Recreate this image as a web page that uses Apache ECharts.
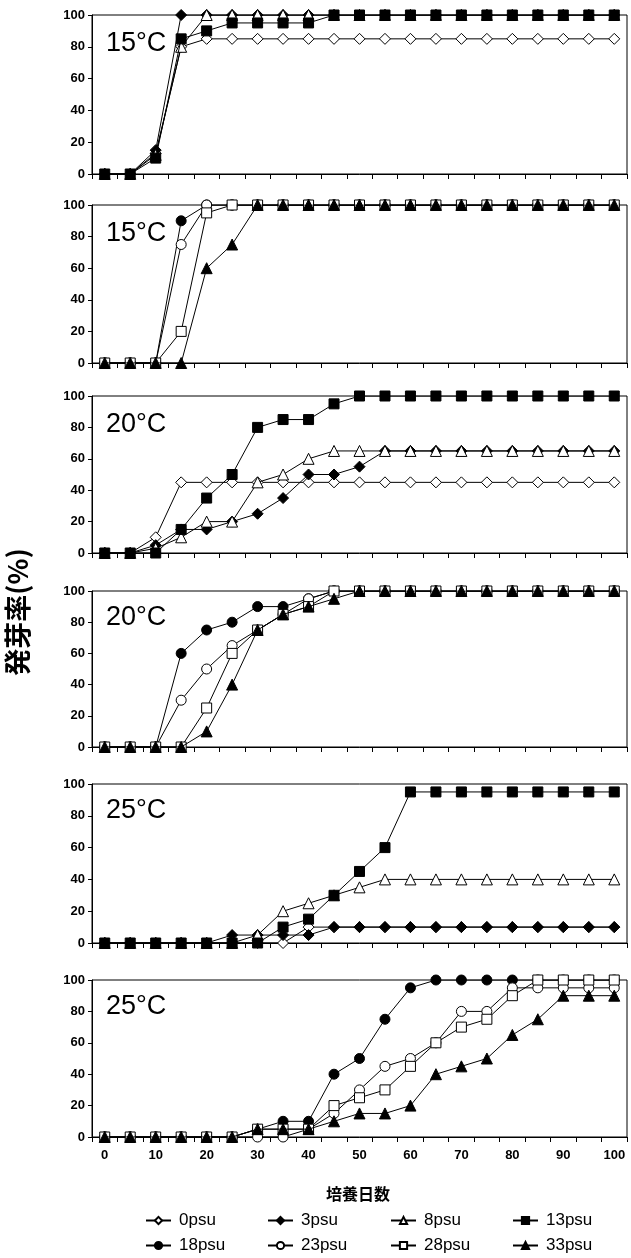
<!DOCTYPE html>
<html>
<head>
<meta charset="utf-8">
<script src="https://cdn.jsdelivr.net/npm/echarts@6/dist/echarts.min.js"></script>
<style>html,body{margin:0;padding:0;background:#fff;}#c{width:631px;height:1258px;}</style>
</head>
<body>
<div id="c"></div>
<script>
// ---- data ----
const days = ['0','5','10','15','20','25','30','35','40','45','50','55','60','65','70','75','80','85','90','95','100'];
const yTicks = [0, 20, 40, 60, 80, 100];
const panelLabels = ['15°C','15°C','20°C','20°C','25°C','25°C'];
const lowNames = ['0psu','3psu','8psu','13psu'];
const highNames = ['18psu','23psu','28psu','33psu'];

// 15°C, low salinity
const s15_0  = [0,0,13,80,85,85,85,85,85,85,85,85,85,85,85,85,85,85,85,85,85];
const s15_3  = [0,0,15,100,100,100,100,100,100,100,100,100,100,100,100,100,100,100,100,100,100];
const s15_8  = [0,0,12,80,100,100,100,100,100,100,100,100,100,100,100,100,100,100,100,100,100];
const s15_13 = [0,0,10,85,90,95,95,95,95,100,100,100,100,100,100,100,100,100,100,100,100];
// 15°C, high salinity
const s15_18 = [0,0,0,90,100,100,100,100,100,100,100,100,100,100,100,100,100,100,100,100,100];
const s15_23 = [0,0,0,75,100,100,100,100,100,100,100,100,100,100,100,100,100,100,100,100,100];
const s15_28 = [0,0,0,20,95,100,100,100,100,100,100,100,100,100,100,100,100,100,100,100,100];
const s15_33 = [0,0,0,0,60,75,100,100,100,100,100,100,100,100,100,100,100,100,100,100,100];
// 20°C, low salinity
const s20_0  = [0,0,10,45,45,45,45,45,45,45,45,45,45,45,45,45,45,45,45,45,45];
const s20_3  = [0,0,5,15,15,20,25,35,50,50,55,65,65,65,65,65,65,65,65,65,65];
const s20_8  = [0,0,3,10,20,20,45,50,60,65,65,65,65,65,65,65,65,65,65,65,65];
const s20_13 = [0,0,0,15,35,50,80,85,85,95,100,100,100,100,100,100,100,100,100,100,100];
// 20°C, high salinity
const s20_18 = [0,0,0,60,75,80,90,90,95,100,100,100,100,100,100,100,100,100,100,100,100];
const s20_23 = [0,0,0,30,50,65,75,85,95,100,100,100,100,100,100,100,100,100,100,100,100];
const s20_28 = [0,0,0,0,25,60,75,85,90,100,100,100,100,100,100,100,100,100,100,100,100];
const s20_33 = [0,0,0,0,10,40,75,85,90,95,100,100,100,100,100,100,100,100,100,100,100];
// 25°C, low salinity
const s25_0  = [0,0,0,0,0,0,0,0,10,10,10,10,10,10,10,10,10,10,10,10,10];
const s25_3  = [0,0,0,0,0,5,5,5,5,10,10,10,10,10,10,10,10,10,10,10,10];
const s25_8  = [0,0,0,0,0,0,5,20,25,30,35,40,40,40,40,40,40,40,40,40,40];
const s25_13 = [0,0,0,0,0,0,0,10,15,30,45,60,95,95,95,95,95,95,95,95,95];
// 25°C, high salinity
const s25_18 = [0,0,0,0,0,0,5,10,10,40,50,75,95,100,100,100,100,100,100,100,100];
const s25_23 = [0,0,0,0,0,0,0,0,5,15,30,45,50,60,80,80,95,95,95,95,95];
const s25_28 = [0,0,0,0,0,0,5,5,5,20,25,30,45,60,70,75,90,100,100,100,100];
const s25_33 = [0,0,0,0,0,0,5,5,5,10,15,15,20,40,45,50,65,75,90,90,90];

const panels = [
  [s15_0, s15_3, s15_8, s15_13],
  [s15_18, s15_23, s15_28, s15_33],
  [s20_0, s20_3, s20_8, s20_13],
  [s20_18, s20_23, s20_28, s20_33],
  [s25_0, s25_3, s25_8, s25_13],
  [s25_18, s25_23, s25_28, s25_33]
];

// ---- styles ----
const markerStyles = {
  '0psu':  {symbol:'diamond', open:true,  size:11},
  '3psu':  {symbol:'diamond', open:false, size:11},
  '8psu':  {symbol:'triangle',open:true,  size:11},
  '13psu': {symbol:'rect',    open:false, size:10},
  '18psu': {symbol:'circle',  open:false, size:10},
  '23psu': {symbol:'circle',  open:true,  size:10},
  '28psu': {symbol:'rect',    open:true,  size:10},
  '33psu': {symbol:'triangle',open:false, size:11}
};
const FONT = "'Liberation Sans', Arial, sans-serif";
const gridTops = [15, 205, 396, 591, 784, 980];
const gridHeights = [159, 158, 157, 156, 159, 157];

const grids = [], xAxes = [], yAxes = [], series = [], graphics = [];
panels.forEach((pdata, i) => {
  grids.push({left:92, width:535, top:gridTops[i], height:gridHeights[i],
    show:true, borderColor:'#000', borderWidth:1, backgroundColor:'transparent'});
  const last = i === panels.length - 1;
  xAxes.push({type:'category', gridIndex:i, data:days, boundaryGap:true,
    axisLine:{lineStyle:{color:'#000', width:1}},
    axisTick:{show:true, interval:0, length:5, lineStyle:{color:'#000'}},
    axisLabel:{show:last, interval:1, color:'#000', fontFamily:FONT, fontWeight:'bold', fontSize:13, margin:12},
    splitLine:{show:false}});
  yAxes.push({type:'value', gridIndex:i, min:yTicks[0], max:yTicks[yTicks.length-1], interval:20,
    axisLine:{show:true, lineStyle:{color:'#000', width:1}},
    axisTick:{show:true, length:4, lineStyle:{color:'#000'}},
    axisLabel:{color:'#000', fontFamily:FONT, fontWeight:'bold', fontSize:13, margin:7},
    splitLine:{show:false}});
  const names = (i % 2 === 0) ? lowNames : highNames;
  pdata.forEach((vals, k) => {
    const nm = names[k];
    const ms = markerStyles[nm];
    series.push({type:'line', name:nm, xAxisIndex:i, yAxisIndex:i, data:vals,
      symbol:ms.symbol, symbolSize:ms.size, showAllSymbol:true,
      lineStyle:{color:'#000', width:1},
      itemStyle:{color: ms.open ? '#fff' : '#000', borderColor:'#000', borderWidth:1, opacity:1},
      emphasis:{disabled:true}, animation:false, z:2+k});
  });
  graphics.push({type:'text', left:106, top:gridTops[i] + (i < 3 ? 15 : 13),
    style:{text:panelLabels[i], font:"27px " + FONT, fill:'#000'}});
});

graphics.push({type:'text', x:18, y:612, rotation:Math.PI/2,
  style:{text:'発芽率(%)', font:"bold 27px 'Noto Sans CJK JP', sans-serif", fill:'#000', align:'center', verticalAlign:'middle'}});
graphics.push({type:'text', x:358, y:1194,
  style:{text:'培養日数', font:"bold 16px 'Noto Sans CJK JP', sans-serif", fill:'#000', align:'center', verticalAlign:'middle'}});

const legendLefts = [145, 267, 390, 512];
const legends = [];
lowNames.concat(highNames).forEach((nm, j) => {
  legends.push({data:[nm], left:legendLefts[j % 4], top: j < 4 ? 1212 : 1237, padding:0,
    itemWidth:25, itemHeight:9, itemGap:0, selectedMode:false,
    textStyle:{color:'#000', fontFamily:FONT, fontSize:17, padding:[0,0,0,3]}});
});

const chart = echarts.init(document.getElementById('c'), null, {renderer:'canvas'});
chart.setOption({
  animation:false,
  backgroundColor:'#fff',
  grid:grids, xAxis:xAxes, yAxis:yAxes, series:series,
  legend:legends, graphic:graphics
});
</script>
</body>
</html>
